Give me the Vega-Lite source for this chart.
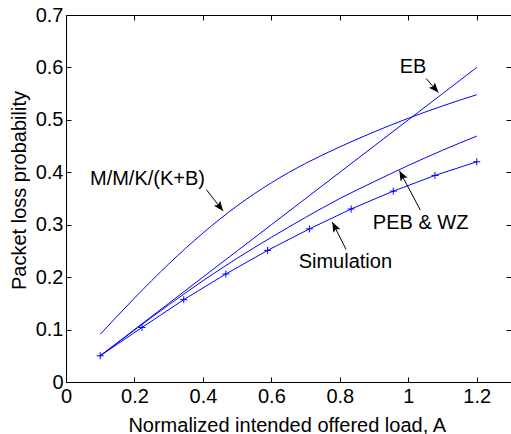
{
  "$schema": "https://vega.github.io/schema/vega-lite/v6.json",
  "width": 445,
  "height": 367,
  "autosize": "none",
  "padding": {"left": 66, "top": 15, "right": 0, "bottom": 52},
  "config": {
    "view": {"stroke": "black", "strokeWidth": 1},
    "font": "Liberation Sans",
    "axis": {
      "labelFont": "Liberation Sans",
      "titleFont": "Liberation Sans",
      "labelFontSize": 20,
      "titleFontSize": 20,
      "titleFontWeight": "normal",
      "labelColor": "black",
      "titleColor": "black",
      "tickColor": "black",
      "domain": false,
      "grid": false,
      "tickSize": -5,
      "labelFlush": false,
      "labelOverlap": false
    }
  },
  "datasets": {
    "curves": [
      {"series": "EB", "A": 0.1, "P": 0.05},
      {"series": "EB", "A": 0.2, "P": 0.1},
      {"series": "EB", "A": 0.3, "P": 0.15},
      {"series": "EB", "A": 0.4, "P": 0.2},
      {"series": "EB", "A": 0.5, "P": 0.25},
      {"series": "EB", "A": 0.6, "P": 0.3},
      {"series": "EB", "A": 0.7, "P": 0.35},
      {"series": "EB", "A": 0.8, "P": 0.4},
      {"series": "EB", "A": 0.9, "P": 0.45},
      {"series": "EB", "A": 1.0, "P": 0.5},
      {"series": "EB", "A": 1.1, "P": 0.55},
      {"series": "EB", "A": 1.2, "P": 0.6},
      {"series": "MMK", "A": 0.1, "P": 0.091},
      {"series": "MMK", "A": 0.2, "P": 0.16},
      {"series": "MMK", "A": 0.3, "P": 0.225},
      {"series": "MMK", "A": 0.4, "P": 0.284},
      {"series": "MMK", "A": 0.5, "P": 0.336},
      {"series": "MMK", "A": 0.6, "P": 0.38},
      {"series": "MMK", "A": 0.7, "P": 0.417},
      {"series": "MMK", "A": 0.8, "P": 0.4485},
      {"series": "MMK", "A": 0.9, "P": 0.477},
      {"series": "MMK", "A": 1.0, "P": 0.503},
      {"series": "MMK", "A": 1.1, "P": 0.5265},
      {"series": "MMK", "A": 1.2, "P": 0.548},
      {"series": "PEB", "A": 0.1, "P": 0.05},
      {"series": "PEB", "A": 0.2, "P": 0.099},
      {"series": "PEB", "A": 0.3, "P": 0.147},
      {"series": "PEB", "A": 0.4, "P": 0.193},
      {"series": "PEB", "A": 0.5, "P": 0.236},
      {"series": "PEB", "A": 0.6, "P": 0.276},
      {"series": "PEB", "A": 0.7, "P": 0.314},
      {"series": "PEB", "A": 0.8, "P": 0.35},
      {"series": "PEB", "A": 0.9, "P": 0.382},
      {"series": "PEB", "A": 1.0, "P": 0.413},
      {"series": "PEB", "A": 1.1, "P": 0.442},
      {"series": "PEB", "A": 1.2, "P": 0.469}
    ],
    "sim": [
      {"A": 0.1, "P": 0.05},
      {"A": 0.222, "P": 0.104},
      {"A": 0.344, "P": 0.157},
      {"A": 0.467, "P": 0.206},
      {"A": 0.589, "P": 0.251},
      {"A": 0.711, "P": 0.292},
      {"A": 0.833, "P": 0.33},
      {"A": 0.956, "P": 0.364},
      {"A": 1.078, "P": 0.394},
      {"A": 1.2, "P": 0.42}
    ],
    "notes": [
      {"label": "EB", "A": 1.014, "P": 0.6},
      {"label": "M/M/K/(K+B)", "A": 0.238, "P": 0.387},
      {"label": "PEB & WZ", "A": 1.036, "P": 0.304},
      {"label": "Simulation", "A": 0.816, "P": 0.229}
    ],
    "arrows": [
      {"name": "EB", "A": 1.052, "P": 0.579, "A2": 1.088, "P2": 0.552},
      {"name": "MMK", "A": 0.41, "P": 0.367, "A2": 0.459, "P2": 0.326},
      {"name": "PEB", "A": 1.035, "P": 0.328, "A2": 0.974, "P2": 0.403},
      {"name": "Sim", "A": 0.818, "P": 0.253, "A2": 0.778, "P2": 0.305}
    ]
  },
  "layer": [
    {
      "data": {"name": "curves"},
      "mark": {"type": "line", "color": "#0000FF", "strokeWidth": 1, "interpolate": "monotone"},
      "encoding": {
        "x": {"field": "A", "type": "quantitative", "scale": {"domain": [0, 1.3], "nice": false, "zero": false},
          "axis": {"values": [0, 0.2, 0.4, 0.6, 0.8, 1, 1.2], "format": "~g", "labelPadding": 9,
            "title": "Normalized intended offered load, A", "titleX": 220.7, "titleY": 49, "titleBaseline": "alphabetic", "titleAlign": "center"}},
        "y": {"field": "P", "type": "quantitative", "scale": {"domain": [0, 0.7], "nice": false, "zero": false},
          "axis": {"values": [0, 0.1, 0.2, 0.3, 0.4, 0.5, 0.6, 0.7], "format": "~g", "labelPadding": 8,
            "title": "Packet loss probability", "titleX": -41, "titleY": 175, "titleAngle": 270, "titleBaseline": "alphabetic", "titleAlign": "center"}},
        "detail": {"field": "series"}
      }
    },
    {
      "data": {"name": "sim"},
      "mark": {"type": "line", "color": "#0000FF", "strokeWidth": 1},
      "encoding": {
        "x": {"field": "A", "type": "quantitative", "axis": null},
        "y": {"field": "P", "type": "quantitative", "axis": null}
      }
    },
    {
      "data": {"name": "sim"},
      "mark": {"type": "point", "shape": "M-1,0L1,0M0,-1L0,1", "filled": false, "stroke": "#0000FF", "strokeWidth": 1, "size": 49, "opacity": 1},
      "encoding": {
        "x": {"field": "A", "type": "quantitative",
          "axis": {"orient": "top", "values": [0, 0.2, 0.4, 0.6, 0.8, 1, 1.2], "labels": false, "title": null}},
        "y": {"field": "P", "type": "quantitative",
          "axis": {"orient": "right", "values": [0, 0.1, 0.2, 0.3, 0.4, 0.5, 0.6, 0.7], "labels": false, "title": null}}
      }
    },
    {
      "data": {"name": "arrows"},
      "mark": {"type": "rule", "color": "black", "strokeWidth": 1},
      "encoding": {
        "x": {"field": "A", "type": "quantitative", "axis": null},
        "y": {"field": "P", "type": "quantitative", "axis": null},
        "x2": {"field": "A2"},
        "y2": {"field": "P2"}
      }
    },
    {
      "data": {"name": "arrows"},
      "transform": [{"filter": "datum.name === 'EB'"}],
      "mark": {"type": "point", "shape": "M0,0L-1,-0.4L-0.8,0L-1,0.4Z", "filled": true, "color": "black", "opacity": 1, "size": 400, "angle": 48.8},
      "encoding": {
        "x": {"field": "A2", "type": "quantitative", "axis": null},
        "y": {"field": "P2", "type": "quantitative", "axis": null}
      }
    },
    {
      "data": {"name": "arrows"},
      "transform": [{"filter": "datum.name === 'MMK'"}],
      "mark": {"type": "point", "shape": "M0,0L-1,-0.4L-0.8,0L-1,0.4Z", "filled": true, "color": "black", "opacity": 1, "size": 400, "angle": 52.2},
      "encoding": {
        "x": {"field": "A2", "type": "quantitative", "axis": null},
        "y": {"field": "P2", "type": "quantitative", "axis": null}
      }
    },
    {
      "data": {"name": "arrows"},
      "transform": [{"filter": "datum.name === 'PEB'"}],
      "mark": {"type": "point", "shape": "M0,0L-1,-0.4L-0.8,0L-1,0.4Z", "filled": true, "color": "black", "opacity": 1, "size": 400, "angle": 241.9},
      "encoding": {
        "x": {"field": "A2", "type": "quantitative", "axis": null},
        "y": {"field": "P2", "type": "quantitative", "axis": null}
      }
    },
    {
      "data": {"name": "arrows"},
      "transform": [{"filter": "datum.name === 'Sim'"}],
      "mark": {"type": "point", "shape": "M0,0L-1,-0.4L-0.8,0L-1,0.4Z", "filled": true, "color": "black", "opacity": 1, "size": 400, "angle": 243.1},
      "encoding": {
        "x": {"field": "A2", "type": "quantitative", "axis": null},
        "y": {"field": "P2", "type": "quantitative", "axis": null}
      }
    },
    {
      "data": {"name": "notes"},
      "mark": {"type": "text", "font": "Liberation Sans", "fontSize": 20, "color": "black", "align": "center", "baseline": "middle"},
      "encoding": {
        "x": {"field": "A", "type": "quantitative", "axis": null},
        "y": {"field": "P", "type": "quantitative", "axis": null},
        "text": {"field": "label"}
      }
    }
  ],
  "resolve": {"axis": {"x": "independent", "y": "independent"}}
}
